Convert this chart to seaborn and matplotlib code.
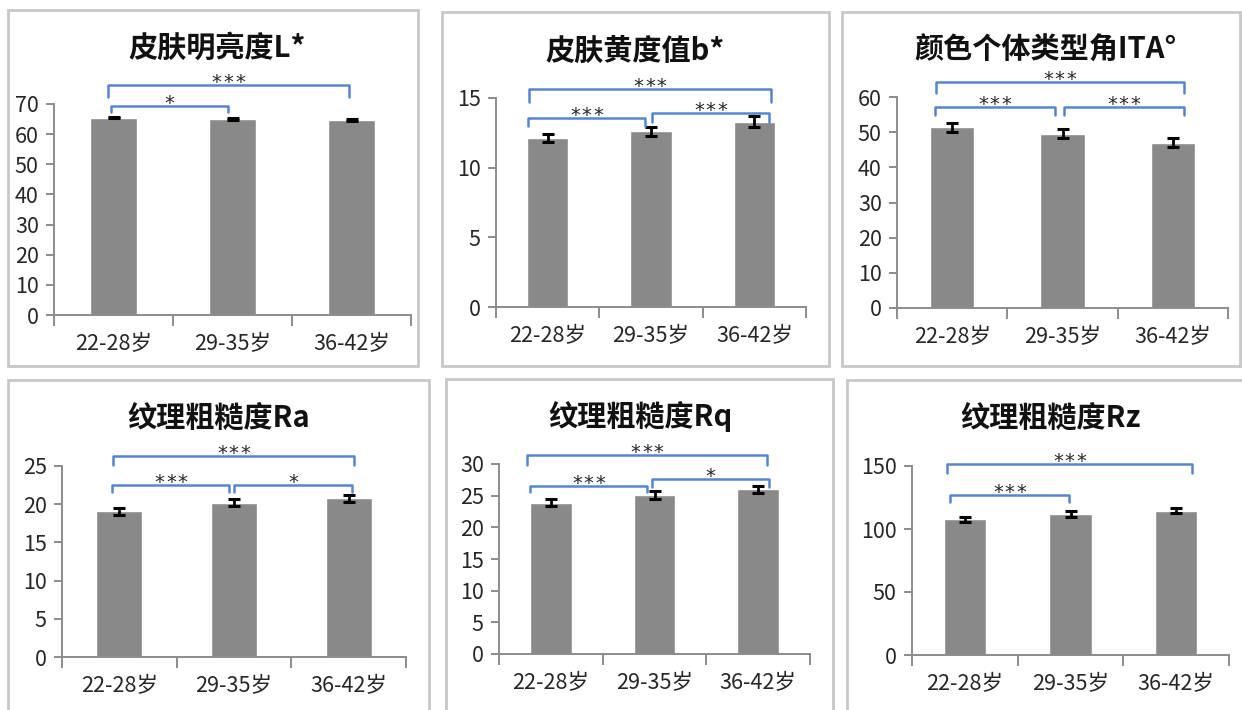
import numpy as np
import pandas as pd
import seaborn as sns
import matplotlib.pyplot as plt
from matplotlib.patches import Rectangle

# data
groups = ['22-28岁', '29-35岁', '36-42岁']
titles = ['皮肤明亮度L*', '皮肤黄度值b*', '颜色个体类型角ITA°',
          '纹理粗糙度Ra', '纹理粗糙度Rq', '纹理粗糙度Rz']

l_mean = [65.5, 65.1, 64.6]
l_err = [0.3, 0.35, 0.35]
b_mean = [12.15, 12.6, 13.3]
b_err = [0.3, 0.33, 0.38]
ita_mean = [51.4, 49.6, 47.0]
ita_err = [1.3, 1.3, 1.3]
ra_mean = [19.1, 20.2, 20.8]
ra_err = [0.45, 0.45, 0.45]
rq_mean = [23.9, 25.1, 26.0]
rq_err = [0.6, 0.6, 0.6]
rz_mean = [107.7, 111.9, 114.5]
rz_err = [2.1, 2.4, 2.1]

l_sig = ['***', '*']
b_sig = ['***', '***', '***']
ita_sig = ['***', '***', '***']
ra_sig = ['***', '***', '*']
rq_sig = ['***', '***', '*']
rz_sig = ['***', '***']

y_max = [70, 15, 60, 25, 30, 150]
y_step = [10, 5, 10, 5, 5, 50]

means = [l_mean, b_mean, ita_mean, ra_mean, rq_mean, rz_mean]
errs = [l_err, b_err, ita_err, ra_err, rq_err, rz_err]
sigs = [l_sig, b_sig, ita_sig, ra_sig, rq_sig, rz_sig]

# layout (pixels on the 1242x710 canvas)
W, H = 1242, 710
axes_px = [(54, 411, 315, 104), (496, 806, 307, 98), (897, 1228, 308, 97),
           (62, 406, 657, 466), (499, 810, 654, 464), (912, 1229, 655, 466)]
boxes_px = [(8, 10, 418, 366), (442, 12, 829, 366), (842, 12, 1240, 366),
            (8, 380, 429, 715), (446, 379, 833, 715), (847, 380, 1250, 715)]
title_px = [(217, 48), (635, 51), (1046, 50), (219, 418), (640, 416), (1050, 418)]
# bracket geometry: (x start, x end, y line, y end of legs) in data units
brackets = [
    [(-0.05, 1.98, 76.4, 72.4), (-0.02, 0.96, 69.4, 67.4)],
    [(-0.18, 2.16, 15.65, 14.7), (-0.19, 0.94, 13.57, 13.0), (1.01, 2.14, 13.93, 13.28)],
    [(-0.15, 2.10, 64.3, 61.1), (-0.16, 0.93, 57.2, 54.9), (1.01, 2.10, 57.2, 54.9)],
    [(-0.055, 2.05, 26.3, 25.1), (-0.06, 0.96, 22.5, 21.6), (1.0, 2.03, 22.5, 21.6)],
    [(-0.23, 2.09, 31.4, 29.9), (-0.2, 0.93, 26.5, 25.6), (0.975, 2.10, 27.6, 26.4)],
    [(-0.17, 2.15, 151.6, 144.4), (-0.14, 0.985, 127.0, 121.4)],
]

bar_color = '#898989'
axis_color = '#8c8c8c'
blue = '#5585cf'
star_gap = 8.3  # points between star centres

sns.set_theme(style='white')
plt.rcParams['font.family'] = ['Noto Sans CJK SC', 'DejaVu Sans']

fig = plt.figure(figsize=(W / 100, H / 100), dpi=100)

for (x0, y0, x1, y1) in boxes_px:
    fig.patches.append(Rectangle((x0 / W, 1 - y1 / H), (x1 - x0) / W, (y1 - y0) / H,
                                 transform=fig.transFigure, fill=False,
                                 edgecolor='#c8c8c8', linewidth=2))

for k in range(6):
    l, r, yb, yt = axes_px[k]
    ax = fig.add_axes([l / W, 1 - yb / H, (r - l) / W, (yb - yt) / H])
    df = pd.DataFrame({'group': groups, 'value': means[k]})
    sns.barplot(data=df, x='group', y='value', color=bar_color, saturation=1,
                width=0.4, errorbar=None, ax=ax)
    ax.errorbar(range(3), means[k], yerr=errs[k], fmt='none', ecolor='black',
                elinewidth=2, capsize=4, capthick=2.2)
    ax.set_xlim(-0.5, 2.5)
    ax.set_ylim(0, y_max[k])
    ax.set_yticks(np.arange(0, y_max[k] + 1, y_step[k]))
    ax.set_xlabel('')
    ax.set_ylabel('')
    for s in ['top', 'right']:
        ax.spines[s].set_visible(False)
    for s in ['left', 'bottom']:
        ax.spines[s].set_color(axis_color)
        ax.spines[s].set_linewidth(1.4)
    ax.set_xticks([-0.5, 0.5, 1.5, 2.5], minor=True)
    ax.tick_params(axis='x', which='major', length=0, pad=13, labelsize=15.5,
                   labelcolor='#262626')
    ax.tick_params(axis='x', which='minor', length=8, width=1.4, color=axis_color,
                   direction='out', bottom=True)
    ax.tick_params(axis='y', length=6, width=1.4, color=axis_color, direction='out',
                   left=True, labelsize=15.5, labelcolor='#262626', pad=5)

    for (xa, xb, yl, ye), lab in zip(brackets[k], sigs[k]):
        ax.plot([xa, xa, xb, xb], [ye, yl, yl, ye], color=blue, lw=1.8,
                clip_on=False, solid_joinstyle='round')
        n = len(lab)
        for i in range(n):
            dx = (i - (n - 1) / 2) * star_gap
            ax.annotate('*', ((xa + xb) / 2, yl), xytext=(dx, -5),
                        textcoords='offset points', ha='center', va='bottom',
                        fontsize=14, color='#262626', family='DejaVu Sans',
                        annotation_clip=False)

    tx, ty = title_px[k]
    fig.text(tx / W, 1 - ty / H, titles[k], ha='center', va='center',
             fontsize=21, fontweight='bold', color='#111111')

fig.savefig('out.png', dpi=100)
